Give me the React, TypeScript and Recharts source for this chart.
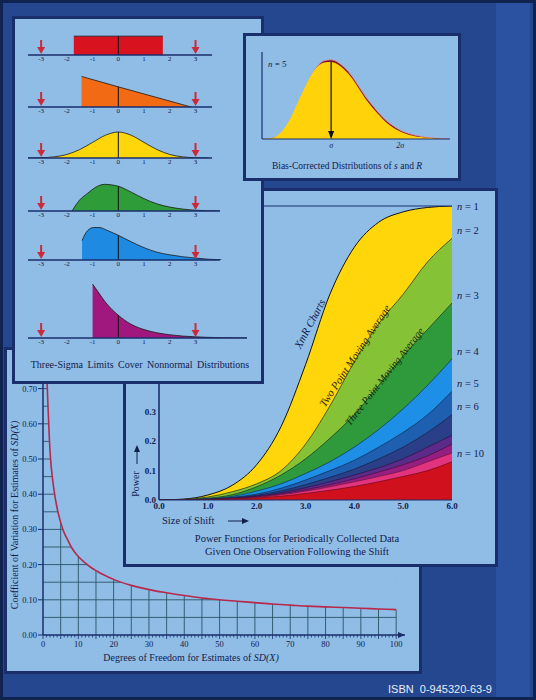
import React from 'react';
import { ComposedChart, Area, Line, XAxis, YAxis, ReferenceLine, ReferenceDot } from 'recharts';

const SERIF = "'Liberation Serif', 'DejaVu Serif', serif";
const BG = '#24478f';
const PANEL = '#8fbde6';
const NAVY = '#1a2e6c';
const INK = '#14204c';
const LIMIT_RED = '#cc2a3a';

// ---- Three-sigma panel: six distributions (x in sigma units, y = density) ----
const SIGMA_TICKS = [-3, -2, -1, 0, 1, 2, 3];
const UNIFORM_X = [-1.73, 0, 1.73];
const UNIFORM_Y = [0.29, 0.29, 0.29];
const TRIANGLE_X = [-1.43, 0, 2.83];
const TRIANGLE_Y = [0.47, 0.31, 0];
const NORMAL_X = [-3.5, -3, -2.5, -2, -1.5, -1, -0.5, 0, 0.5, 1, 1.5, 2, 2.5, 3, 3.5];
const NORMAL_Y = [0.001, 0.004, 0.018, 0.054, 0.13, 0.24, 0.35, 0.4, 0.35, 0.24, 0.13, 0.054, 0.018, 0.004, 0.001];
const SKEW1_X = [-1.8, -1.5, -1.2, -0.9, -0.55, 0, 0.5, 1, 1.5, 2, 2.5, 3, 3.5, 3.95];
const SKEW1_Y = [0, 0.17, 0.27, 0.36, 0.41, 0.38, 0.29, 0.19, 0.11, 0.06, 0.03, 0.012, 0.004, 0];
const SKEW2_X = [-1.41, -1.2, -0.95, -0.75, -0.4, 0, 0.5, 1, 1.5, 2, 2.5, 3, 3.5, 4];
const SKEW2_Y = [0.3, 0.45, 0.5, 0.5, 0.45, 0.38, 0.28, 0.19, 0.12, 0.08, 0.05, 0.03, 0.012, 0.003];
const EXPO_X = [-1, -0.7, -0.5, 0, 0.5, 1, 1.5, 2, 2.5, 3, 3.5, 4, 5];
const EXPO_Y = [0.83, 0.66, 0.55, 0.35, 0.21, 0.13, 0.08, 0.05, 0.03, 0.018, 0.01, 0.005, 0];

// ---- Bias-corrected panel (x in sigma units) ----
const BIAS_X = [0, 0.1, 0.2, 0.3, 0.4, 0.5, 0.6, 0.7, 0.8, 0.9, 1.0, 1.1, 1.2, 1.3, 1.4, 1.5, 1.6, 1.7, 1.8, 1.9, 2.0, 2.1, 2.2, 2.3, 2.4, 2.5, 2.6, 2.7];
const S_DENS = [0, 0.005, 0.03, 0.1, 0.22, 0.39, 0.56, 0.72, 0.83, 0.88, 0.885, 0.855, 0.79, 0.7, 0.58, 0.46, 0.36, 0.27, 0.19, 0.13, 0.085, 0.055, 0.035, 0.022, 0.013, 0.007, 0.003, 0];
const R_DENS = [0, 0.004, 0.025, 0.09, 0.2, 0.37, 0.545, 0.71, 0.835, 0.9, 0.91, 0.88, 0.815, 0.725, 0.605, 0.485, 0.385, 0.29, 0.21, 0.15, 0.1, 0.068, 0.045, 0.03, 0.019, 0.011, 0.006, 0.003];

// ---- Power functions panel ----
const SHIFT = [0, 0.5, 1, 1.5, 2, 2.5, 3, 3.5, 4, 4.5, 5, 5.5, 6];
const POWER_N1 = [0, 0.003, 0.017, 0.05, 0.12, 0.25, 0.46, 0.7, 0.86, 0.945, 0.98, 0.995, 1.0];
const POWER_N2 = [0, 0.002, 0.01, 0.028, 0.055, 0.1, 0.19, 0.32, 0.47, 0.6, 0.7, 0.81, 0.89];
const POWER_N3 = [0, 0.001, 0.006, 0.018, 0.045, 0.085, 0.14, 0.21, 0.29, 0.39, 0.49, 0.58, 0.67];
const POWER_N4 = [0, 0.001, 0.004, 0.012, 0.03, 0.055, 0.09, 0.13, 0.18, 0.24, 0.31, 0.39, 0.48];
const POWER_N5 = [0, 0.001, 0.003, 0.009, 0.02, 0.04, 0.068, 0.1, 0.135, 0.18, 0.23, 0.29, 0.37];
const POWER_N6 = [0, 0.001, 0.002, 0.007, 0.016, 0.031, 0.052, 0.077, 0.105, 0.14, 0.18, 0.23, 0.29];
const POWER_N7 = [0, 0, 0.002, 0.006, 0.013, 0.025, 0.042, 0.062, 0.085, 0.11, 0.14, 0.18, 0.22];
const POWER_N8 = [0, 0, 0.002, 0.005, 0.011, 0.021, 0.035, 0.052, 0.072, 0.095, 0.12, 0.15, 0.19];
const POWER_N9 = [0, 0, 0.001, 0.004, 0.009, 0.018, 0.03, 0.045, 0.062, 0.08, 0.1, 0.13, 0.16];
const POWER_N10 = [0, 0, 0.001, 0.003, 0.007, 0.013, 0.022, 0.033, 0.046, 0.062, 0.08, 0.1, 0.13];
const SHIFT_TICKS = [0, 1, 2, 3, 4, 5, 6];
const POWER_TICKS = [0, 0.1, 0.2, 0.3];
const LABELED_N = [1, 2, 3, 4, 5, 6, 10];

// ---- Coefficient of variation panel ----
const DF = [1, 2, 3, 4, 5, 6, 7, 8, 9, 10, 12, 14, 15, 16, 18, 20, 25, 30, 35, 40, 45, 50, 55, 60, 65, 70, 75, 80, 85, 90, 95, 100];
const CV = [0.76, 0.52, 0.42, 0.36, 0.32, 0.29, 0.27, 0.25, 0.235, 0.223, 0.204, 0.189, 0.183, 0.177, 0.167, 0.158, 0.141, 0.129, 0.12, 0.112, 0.105, 0.1, 0.096, 0.092, 0.088, 0.085, 0.082, 0.08, 0.078, 0.076, 0.074, 0.072];
const DF_TICKS = Array.from({ length: 101 }, (_, i) => i);
const CV_TICKS = [0, 0.1, 0.2, 0.3, 0.4, 0.5, 0.6, 0.7];
const GRID_DF = Array.from({ length: 20 }, (_, i) => (i + 1) * 5);
const GRID_CV = Array.from({ length: 14 }, (_, i) => +((i + 1) * 0.05).toFixed(2));

const BANDS = [
  { key: 'n1', values: POWER_N1, color: '#ffd60a', stroke: '#111' },
  { key: 'n2', values: POWER_N2, color: '#86c236', stroke: '#1a2a10' },
  { key: 'n3', values: POWER_N3, color: '#2f9a3c', stroke: '#12301a' },
  { key: 'n4', values: POWER_N4, color: '#1e8fe6', stroke: '#10305a' },
  { key: 'n5', values: POWER_N5, color: '#1f5fb0', stroke: '#10284a' },
  { key: 'n6', values: POWER_N6, color: '#2a3f88', stroke: '#141e44' },
  { key: 'n7', values: POWER_N7, color: '#5c2a88', stroke: '#2a1240' },
  { key: 'n8', values: POWER_N8, color: '#961e80', stroke: '#40103a' },
  { key: 'n9', values: POWER_N9, color: '#e2347e', stroke: '#70143a' },
  { key: 'n10', values: POWER_N10, color: '#d0101c', stroke: '#6a0a10' },
];

const powerData = SHIFT.map((x, i) => {
  const row: Record<string, number> = { x };
  BANDS.forEach((b) => (row[b.key] = b.values[i]));
  return row;
});
const biasData = BIAS_X.map((x, i) => ({ x, s: S_DENS[i], r: R_DENS[i] }));
const cvData = DF.map((df, i) => ({ df, cv: CV[i] }));

function Panel({ x, y, w, h }: { x: number; y: number; w: number; h: number }) {
  return (
    <div
      style={{
        position: 'absolute', left: x, top: y, width: w, height: h,
        background: PANEL, border: `3px solid ${NAVY}`, boxSizing: 'border-box',
      }}
    />
  );
}

function Txt({ x, y, size, children, anchor = 'middle', rotate = 0, italic = false, color = INK, spacing = 0 }: any) {
  const tx = anchor === 'middle' ? '-50%' : '0';
  return (
    <div
      style={{
        position: 'absolute', left: x, top: y, fontSize: size, lineHeight: 1,
        fontFamily: SERIF, color, whiteSpace: 'nowrap', fontStyle: italic ? 'italic' : 'normal',
        wordSpacing: spacing, transform: `translate(${tx}, -50%) rotate(${rotate}deg)`,
        transformOrigin: anchor === 'middle' ? 'center' : 'left center',
      }}
    >
      {children}
    </div>
  );
}

const LimitArrow = (p: any) => {
  const { cx, cy } = p;
  return (
    <g>
      <rect x={cx - 1} y={cy - 15} width={2} height={9} fill={LIMIT_RED} />
      <path d={`M${cx - 4},${cy - 8} L${cx + 4},${cy - 8} L${cx},${cy - 1} Z`} fill={LIMIT_RED} />
    </g>
  );
};

function DistRow({ xs, ys, color, baseline, plotH, axisEnd, curve = 'monotone' }: any) {
  const data = xs.map((x: number, i: number) => ({ x, y: ys[i] }));
  const atZero = data.find((d: any) => d.x === 0)?.y ?? 0;
  const h = plotH + 12;
  return (
    <div style={{ position: 'absolute', left: 20, top: baseline - plotH - 2, width: 240, height: h }}>
      <ComposedChart width={240} height={h} data={data} margin={{ top: 2, right: 13, bottom: 0, left: 8 }}>
        <XAxis
          dataKey="x" type="number" domain={[-3.51, 5]} allowDataOverflow ticks={SIGMA_TICKS}
          tickLine={false} axisLine={false} height={10} tickSize={1} tickMargin={0}
          tick={{ fontSize: 7, fill: INK, fontFamily: SERIF }}
        />
        <YAxis hide type="number" domain={[0, plotH / 65]} allowDataOverflow />
        <Area
          dataKey="y" type={curve} fill={color} fillOpacity={1} stroke="#1a1a1a"
          strokeWidth={0.8} isAnimationActive={false}
        />
        <ReferenceLine segment={[{ x: 0, y: 0 }, { x: 0, y: atZero }]} stroke="#111" strokeWidth={1} />
        <ReferenceLine segment={[{ x: -3.51, y: 0 }, { x: axisEnd, y: 0 }]} stroke={NAVY} strokeWidth={1.5} />
        <ReferenceDot x={-3} y={0} ifOverflow="visible" shape={LimitArrow} />
        <ReferenceDot x={3} y={0} ifOverflow="visible" shape={LimitArrow} />
      </ComposedChart>
    </div>
  );
}

const DownHead = (p: any) => (
  <path d={`M${p.cx - 3},${p.cy - 8} L${p.cx + 3},${p.cy - 8} L${p.cx},${p.cy} Z`} fill="#111" />
);

function BiasChart() {
  const top = Math.max(...S_DENS);
  return (
    <div style={{ position: 'absolute', left: 250, top: 40, width: 210, height: 113 }}>
      <ComposedChart width={210} height={113} data={biasData} margin={{ top: 12, right: 10, bottom: 0, left: 12 }}>
        <XAxis
          dataKey="x" type="number" domain={[0, 2.72]} allowDataOverflow ticks={[1, 2]}
          tickFormatter={(v) => (v === 1 ? 'σ' : '2σ')} tickLine={false} tickSize={3} tickMargin={0}
          height={14} axisLine={{ stroke: NAVY, strokeWidth: 1.2 }}
          tick={{ fontSize: 8, fill: INK, fontFamily: SERIF, fontStyle: 'italic' }}
        />
        <YAxis hide type="number" domain={[0, 1]} allowDataOverflow />
        <ReferenceLine x={0} stroke={NAVY} strokeWidth={1.2} />
        <Area dataKey="r" type="monotone" fill="#7a1420" fillOpacity={1} stroke="#e48aa4" strokeWidth={0.8} isAnimationActive={false} />
        <Area dataKey="s" type="monotone" fill="#ffd20a" fillOpacity={1} stroke="none" isAnimationActive={false} />
        <ReferenceLine segment={[{ x: 1, y: top }, { x: 1, y: 0.02 }]} stroke="#111" strokeWidth={1.2} />
        <ReferenceDot x={1} y={0} ifOverflow="visible" shape={DownHead} />
      </ComposedChart>
    </div>
  );
}

function PowerChart() {
  const last = SHIFT.length - 1;
  return (
    <div style={{ position: 'absolute', left: 125, top: 195, width: 372, height: 325 }}>
      <ComposedChart width={372} height={325} data={powerData} margin={{ top: 11, right: 45, bottom: 0, left: 4 }}>
        <XAxis
          dataKey="x" type="number" domain={[0, 6]} allowDataOverflow ticks={SHIFT_TICKS}
          tickFormatter={(v) => v.toFixed(1)} tickLine={false} tickSize={3} tickMargin={0} height={20}
          axisLine={{ stroke: NAVY, strokeWidth: 1 }}
          tick={{ fontSize: 9, fill: INK, fontFamily: SERIF, fontWeight: 'bold' }}
        />
        <YAxis
          type="number" domain={[0, 1]} allowDataOverflow ticks={POWER_TICKS} width={30}
          tickFormatter={(v) => v.toFixed(1)} tickLine={false} tickSize={2} tickMargin={1}
          axisLine={{ stroke: NAVY, strokeWidth: 1.6 }}
          tick={{ fontSize: 9, fill: INK, fontFamily: SERIF, fontWeight: 'bold' }}
        />
        <ReferenceLine y={1} stroke={NAVY} strokeWidth={1} />
        {BANDS.map((b, i) => (
          <Area
            key={b.key} dataKey={b.key} type="monotone" fill={b.color} fillOpacity={1}
            stroke={b.stroke} strokeWidth={i === 0 ? 1 : 0.7} isAnimationActive={false}
          />
        ))}
        {LABELED_N.map((n, i) => (
          <ReferenceDot
            key={n} x={6} y={BANDS[n - 1].values[last]} ifOverflow="visible"
            shape={(p: any) => (
              <text x={p.cx + 5} y={p.cy + (i === 0 ? 0 : -8)} dy="0.35em" fontSize={10.5} fontFamily={SERIF} fill={INK}>
                <tspan fontStyle="italic">n</tspan> = {n}
              </text>
            )}
          />
        ))}
      </ComposedChart>
    </div>
  );
}

const RightHead = (p: any) => (
  <path d={`M${p.cx - 7},${p.cy - 3} L${p.cx},${p.cy} L${p.cx - 7},${p.cy + 3} Z`} fill={NAVY} />
);

const DfTick = (p: any) => {
  const { x, y, payload } = p;
  const v = payload.value;
  const major = v % 5 === 0;
  return (
    <g>
      <line x1={x} x2={x} y1={y} y2={y + (major ? 4 : 2.5)} stroke={NAVY} strokeWidth={0.8} />
      {v % 10 === 0 && (
        <text x={x} y={y + 12} textAnchor="middle" fontSize={8.5} fontFamily={SERIF} fill={INK}>
          {v}
        </text>
      )}
    </g>
  );
};

const CV_W = 415;
const CV_H = 325;
const CV_MARGIN = { top: 23, right: 15, bottom: 18, left: 8 };
const GRID_COLOR = '#2a5466';

function CvChart() {
  const cvAt = (df: number) => cvData.find((d) => d.df === df)?.cv ?? 0.75;
  return (
    <>
      <div style={{ position: 'absolute', left: 5, top: 348, width: CV_W, height: CV_H }}>
        <ComposedChart width={CV_W} height={CV_H} data={cvData} margin={CV_MARGIN}>
          <XAxis dataKey="df" type="number" domain={[0, 102.5]} allowDataOverflow height={20} tick={false} tickLine={false} axisLine={false} />
          <YAxis type="number" domain={[0, 0.75]} allowDataOverflow width={30} tick={false} tickLine={false} axisLine={false} />
          <Line dataKey="cv" stroke="none" dot={false} isAnimationActive={false} />
          {GRID_DF.map((v) => (
            <ReferenceLine key={'v' + v} segment={[{ x: v, y: 0 }, { x: v, y: cvAt(v) }]} stroke={GRID_COLOR} strokeWidth={0.9} />
          ))}
          {GRID_CV.map((v) => (
            <ReferenceLine key={'h' + v} segment={[{ x: 0, y: v }, { x: 100, y: v }]} stroke={GRID_COLOR} strokeWidth={0.9} />
          ))}
        </ComposedChart>
      </div>
      <div style={{ position: 'absolute', left: 5, top: 348, width: CV_W, height: CV_H }}>
        <ComposedChart width={CV_W} height={CV_H} data={cvData} margin={CV_MARGIN}>
          <Area dataKey="cv" type="monotone" baseValue={0.75} fill={PANEL} fillOpacity={1} stroke="none" isAnimationActive={false} />
          <Line dataKey="cv" type="monotone" stroke="#b8284a" strokeWidth={1.6} dot={false} isAnimationActive={false} />
          <XAxis
            dataKey="df" type="number" domain={[0, 102.5]} allowDataOverflow ticks={DF_TICKS} interval={0}
            height={20} tickLine={false} tickSize={0} tickMargin={0}
            axisLine={{ stroke: NAVY, strokeWidth: 1.5 }} tick={DfTick}
          />
          <YAxis
            type="number" domain={[0, 0.75]} allowDataOverflow ticks={CV_TICKS} width={30}
            tickFormatter={(v) => v.toFixed(2)} tickSize={5} tickMargin={1}
            tickLine={{ stroke: NAVY }} axisLine={{ stroke: NAVY, strokeWidth: 1.5 }}
            tick={{ fontSize: 8.5, fill: INK, fontFamily: SERIF }}
          />
          <ReferenceDot x={102.5} y={0} ifOverflow="visible" shape={RightHead} />
        </ComposedChart>
      </div>
    </>
  );
}

export default function App() {
  return (
    <div style={{ position: 'absolute', left: 0, top: 0, width: 536, height: 700, background: BG, overflow: 'hidden' }}>
      <div style={{ position: 'absolute', left: 496, top: 0, width: 34, height: 700, background: '#2a52a0' }} />
      <div style={{ position: 'absolute', inset: 0, border: '3px solid #10224f', boxSizing: 'border-box' }} />

      {/* Coefficient of variation */}
      <Panel x={4} y={347} w={418} h={327} />
      <CvChart />
      <Txt x={15} y={515} size={10} rotate={-90}>
        Coefficient of Variation for Estimates of <i>SD(X)</i>
      </Txt>
      <Txt x={191} y={658} size={10}>
        Degrees of Freedom for Estimates of <i>SD(X)</i>
      </Txt>

      {/* Power functions */}
      <Panel x={123} y={188} w={375} h={379} />
      <PowerChart />
      <Txt x={310} y={324} size={11} rotate={-62} italic>XmR Charts</Txt>
      <Txt x={355} y={356} size={11} rotate={-56.5} italic color="#2a2408">Two Point Moving Average</Txt>
      <Txt x={385} y={377} size={10.5} rotate={-52} italic color="#102a10">Three Point Moving Average</Txt>
      <Txt x={136} y={484} size={10} rotate={-90}>Power</Txt>
      <svg style={{ position: 'absolute', left: 132, top: 444, width: 10, height: 22 }}>
        <line x1={5} y1={6} x2={5} y2={20} stroke={INK} strokeWidth={1} />
        <path d="M2,8 L5,1 L8,8 Z" fill={INK} />
      </svg>
      <Txt x={162} y={521} size={10.5} anchor="start">Size of Shift</Txt>
      <svg style={{ position: 'absolute', left: 226, top: 516, width: 26, height: 10 }}>
        <line x1={2} y1={5} x2={18} y2={5} stroke={INK} strokeWidth={1} />
        <path d="M16,2 L23,5 L16,8 Z" fill={INK} />
      </svg>
      <Txt x={297} y={539} size={10.5}>Power Functions for Periodically Collected Data</Txt>
      <Txt x={297} y={552} size={10.5}>Given One Observation Following the Shift</Txt>

      {/* Three-sigma limits */}
      <Panel x={12} y={16} w={252} h={368} />
      <DistRow xs={UNIFORM_X} ys={UNIFORM_Y} color="#d8121e" baseline={55} plotH={24} axisEnd={3.64} curve="linear" />
      <DistRow xs={TRIANGLE_X} ys={TRIANGLE_Y} color="#f26a14" baseline={107} plotH={34} axisEnd={3.64} curve="linear" />
      <DistRow xs={NORMAL_X} ys={NORMAL_Y} color="#ffd60a" baseline={158} plotH={30} axisEnd={3.64} />
      <DistRow xs={SKEW1_X} ys={SKEW1_Y} color="#2f9c3a" baseline={211} plotH={30} axisEnd={3.95} />
      <DistRow xs={SKEW2_X} ys={SKEW2_Y} color="#1e8ae2" baseline={260} plotH={36} axisEnd={3.95} />
      <DistRow xs={EXPO_X} ys={EXPO_Y} color="#a0187e" baseline={338} plotH={58} axisEnd={5} />
      <Txt x={140} y={365} size={10} spacing={2}>Three-Sigma Limits Cover Nonnormal Distributions</Txt>

      {/* Bias-corrected distributions */}
      <Panel x={243} y={33} w={218} h={148} />
      <BiasChart />
      <Txt x={268} y={64} size={9} anchor="start">
        <i>n</i> = 5
      </Txt>
      <Txt x={347} y={167} size={9.5}>
        Bias-Corrected Distributions of <i>s</i> and <i>R</i>
      </Txt>

      <div
        style={{
          position: 'absolute', left: 388, top: 682, fontSize: 11, lineHeight: '14px',
          fontFamily: "'Liberation Sans', Arial, sans-serif", color: '#e8eef8', whiteSpace: 'pre',
        }}
      >
        ISBN  0-945320-63-9
      </div>
    </div>
  );
}
